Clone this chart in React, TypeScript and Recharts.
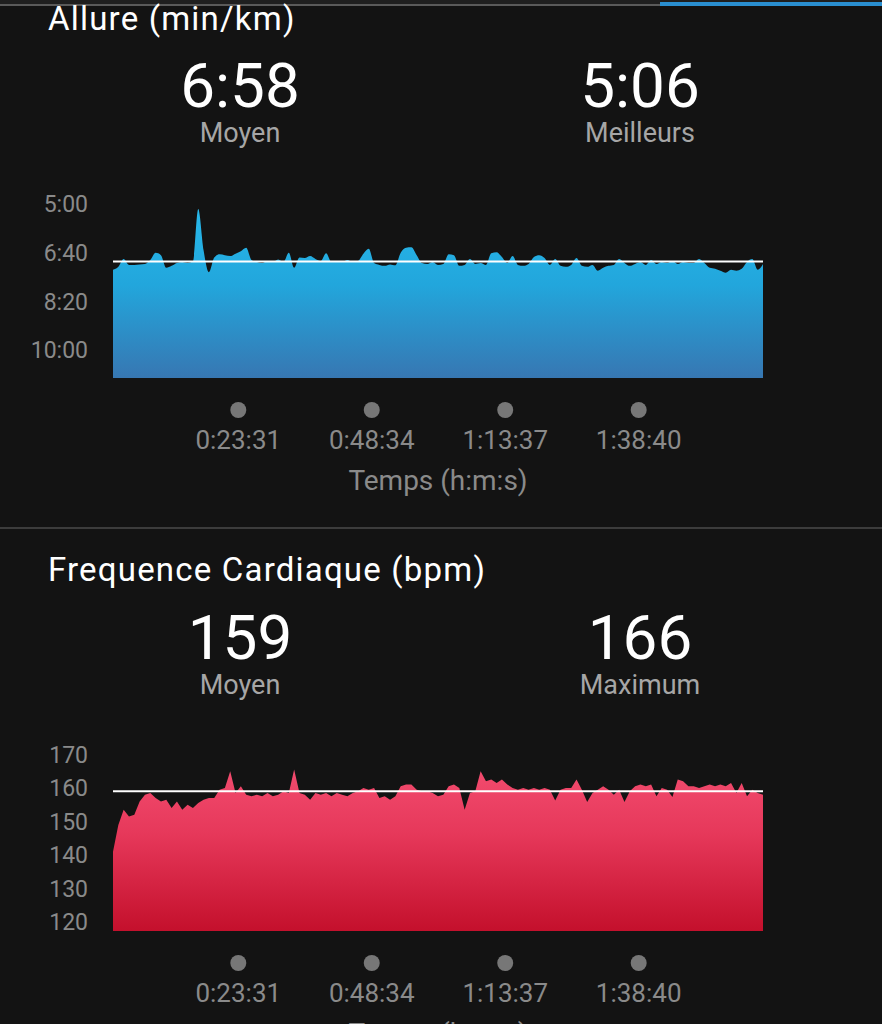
import { AreaChart, Area, XAxis, YAxis, ReferenceLine } from 'recharts';

// one sample per minute
const SAMPLE_SEC = 60;

// Allure (pace) in seconds per km
const PACE_S = [
  435, 429, 413, 425, 425, 424, 423, 415, 400, 405,
  431, 427, 421, 419, 421, 418, 310, 395, 440, 410,
  403, 405, 407, 402, 397, 390, 415, 419, 421, 417,
  419, 414, 419, 400, 431, 410, 411, 407, 413, 417,
  401, 419, 417, 419, 415, 419, 417, 402, 392, 421,
  425, 427, 424, 426, 400, 390, 389, 405, 421, 423,
  419, 425, 423, 403, 405, 427, 425, 413, 423, 421,
  425, 401, 399, 409, 421, 407, 425, 427, 423, 409,
  405, 411, 425, 413, 427, 429, 425, 411, 427, 429,
  425, 437, 431, 427, 425, 413, 421, 427, 423, 419,
  425, 415, 423, 419, 421, 417, 423, 419, 421, 421,
  413, 421, 431, 433, 437, 441, 435, 437, 433, 419,
  413, 435, 423,
];

// Frequence cardiaque in bpm
const HR_BPM = [
  141, 149, 153.5, 151.5, 152, 156, 158, 158.5, 157, 156,
  156.5, 154, 156, 153.5, 155, 154, 155.5, 156.5, 157, 157,
  159.5, 160, 165, 158.5, 160.5, 158, 157.5, 158, 157.5, 158.5,
  157.5, 158, 159, 158.5, 165.5, 158.5, 158, 156.5, 158.5, 158,
  158.5, 157.5, 158.5, 158, 157.5, 158.5, 159, 160, 159.5, 160,
  157, 157.5, 156.5, 157.5, 160.5, 161, 161, 159.5, 159, 159,
  158.5, 157.5, 158, 160.5, 161, 160, 153.5, 158.5, 159, 165,
  162, 162.5, 161.5, 162.5, 161, 160, 159.5, 160, 159.5, 160,
  159.5, 160, 159.5, 156.3, 159.5, 160, 160, 162.5, 159.5, 155.8,
  158.5, 159.5, 160.5, 159.5, 158, 159.5, 155.8, 159, 160.5, 161,
  160.5, 161, 157.5, 160, 159.5, 157.3, 162.5, 162, 160.5, 160.5,
  160, 160.5, 161, 160.5, 161, 160.5, 161.5, 158.5, 161.5, 157.5,
  159.5, 158.5, 158,
];

const TIME_TICKS = [1411, 2914, 4417, 5920];
const TIME_LABELS = ['0:23:31', '0:48:34', '1:13:37', '1:38:40'];

const PACE_TICKS = [300, 400, 500, 600];
const PACE_LABELS = ['5:00', '6:40', '8:20', '10:00'];
const PACE_AVG = 418; // 6:58

const HR_TICKS = [120, 130, 140, 150, 160, 170];
const HR_AVG = 159;

const FONT = "Roboto, 'Noto Sans', sans-serif";
const BG = '#131313';
const AXIS_GRAY = '#8a8a8a';

const paceData = PACE_S.map((v, i) => ({ t: i * SAMPLE_SEC, v }));
const hrData = HR_BPM.map((v, i) => ({ t: i * SAMPLE_SEC, v }));
const timeEnd = (PACE_S.length - 1) * SAMPLE_SEC;

function TimeTick(props: any) {
  const { x, y, payload } = props;
  const label = TIME_LABELS[TIME_TICKS.indexOf(payload.value)];
  return (
    <g>
      <circle cx={x} cy={y + 32} r={8} fill="#777" />
      <text x={x} y={y + 62} textAnchor="middle" dominantBaseline="central" fill={AXIS_GRAY} fontSize={26} fontFamily={FONT}>
        {label}
      </text>
    </g>
  );
}

function Stat({ left, top, value, label }: { left: number; top: number; value: string; label: string }) {
  return (
    <>
      <div style={{ position: 'absolute', left: left - 150, top, width: 300, textAlign: 'center', fontSize: 62, lineHeight: '62px', color: '#fff' }}>
        {value}
      </div>
      <div style={{ position: 'absolute', left: left - 150, top: top + 65, width: 300, textAlign: 'center', fontSize: 27, lineHeight: '27px', color: '#a6a6a6' }}>
        {label}
      </div>
    </>
  );
}

const titleStyle = { position: 'absolute' as const, left: 48, fontSize: 33, lineHeight: '33px', letterSpacing: 1.2, color: '#fff' };

export default function App() {
  return (
    <div style={{ position: 'absolute', left: 0, top: 0, width: 882, height: 1024, overflow: 'hidden', background: BG, fontFamily: FONT }}>
      {/* top tab strip */}
      <div style={{ position: 'absolute', left: 0, top: 0, width: 882, height: 4, background: '#1f1f1f' }} />
      <div style={{ position: 'absolute', left: 0, top: 4, width: 660, height: 2, background: '#5a5a5a' }} />
      <div style={{ position: 'absolute', left: 660, top: 2, width: 222, height: 4, background: '#2a8fd0' }} />

      {/* Allure */}
      <div style={{ ...titleStyle, top: 2 }}>Allure (min/km)</div>
      <Stat left={240} top={55} value="6:58" label="Moyen" />
      <Stat left={640} top={55} value="5:06" label="Meilleurs" />

      <div style={{ position: 'absolute', left: 0, top: 180 }}>
        <AreaChart width={882} height={320} data={paceData} margin={{ top: 19, right: 119, bottom: 0, left: 0 }}>
          <defs>
            <linearGradient id="paceFill" x1="0" y1="0" x2="0" y2="1">
              <stop offset="0%" stopColor="#27b8ea" />
              <stop offset="45%" stopColor="#22a6dc" />
              <stop offset="100%" stopColor="#3777b2" />
            </linearGradient>
          </defs>
          <XAxis
            dataKey="t"
            type="number"
            domain={[0, timeEnd]}
            ticks={TIME_TICKS}
            axisLine={false}
            tickLine={false}
            tickSize={0}
            tickMargin={0}
            height={122}
            tick={<TimeTick />}
            label={{ value: 'Temps (h:m:s)', position: 'insideBottom', offset: 10, fill: AXIS_GRAY, fontSize: 28, fontFamily: FONT }}
          />
          <YAxis
            type="number"
            reversed
            domain={[289.7, 657.3]}
            ticks={PACE_TICKS}
            tickFormatter={(v) => PACE_LABELS[PACE_TICKS.indexOf(v)]}
            axisLine={false}
            tickLine={false}
            tickSize={0}
            tickMargin={25}
            width={113}
            tick={{ fill: AXIS_GRAY, fontSize: 23, fontFamily: FONT }}
          />
          <Area
            type="monotone"
            dataKey="v"
            baseValue="dataMax"
            stroke="none"
            fill="url(#paceFill)"
            fillOpacity={1}
            dot={false}
            isAnimationActive={false}
          />
          <ReferenceLine y={PACE_AVG} stroke="#ffffff" strokeWidth={2} />
        </AreaChart>
      </div>

      {/* separator */}
      <div style={{ position: 'absolute', left: 0, top: 527, width: 882, height: 2, background: '#3c3c3c' }} />

      {/* Frequence cardiaque */}
      <div style={{ ...titleStyle, top: 553 }}>Frequence Cardiaque (bpm)</div>
      <Stat left={240} top={607} value="159" label="Moyen" />
      <Stat left={640} top={607} value="166" label="Maximum" />

      <div style={{ position: 'absolute', left: 0, top: 720 }}>
        <AreaChart width={882} height={333} data={hrData} margin={{ top: 27, right: 119, bottom: 0, left: 0 }}>
          <defs>
            <linearGradient id="hrFill" x1="0" y1="0" x2="0" y2="1">
              <stop offset="0%" stopColor="#f24b6e" />
              <stop offset="40%" stopColor="#e6385a" />
              <stop offset="100%" stopColor="#c4102c" />
            </linearGradient>
          </defs>
          <XAxis
            dataKey="t"
            type="number"
            domain={[0, timeEnd]}
            ticks={TIME_TICKS}
            axisLine={false}
            tickLine={false}
            tickSize={0}
            tickMargin={0}
            height={122}
            tick={<TimeTick />}
            label={{ value: 'Temps (h:m:s)', position: 'insideBottom', offset: 10, fill: AXIS_GRAY, fontSize: 28, fontFamily: FONT }}
          />
          <YAxis
            type="number"
            domain={[117.4, 172.2]}
            ticks={HR_TICKS}
            axisLine={false}
            tickLine={false}
            tickSize={0}
            tickMargin={25}
            width={113}
            tick={{ fill: AXIS_GRAY, fontSize: 23, fontFamily: FONT }}
          />
          <Area
            type="linear"
            dataKey="v"
            baseValue="dataMin"
            stroke="none"
            fill="url(#hrFill)"
            fillOpacity={1}
            dot={false}
            isAnimationActive={false}
          />
          <ReferenceLine y={HR_AVG} stroke="#ffffff" strokeWidth={2} />
        </AreaChart>
      </div>
    </div>
  );
}
